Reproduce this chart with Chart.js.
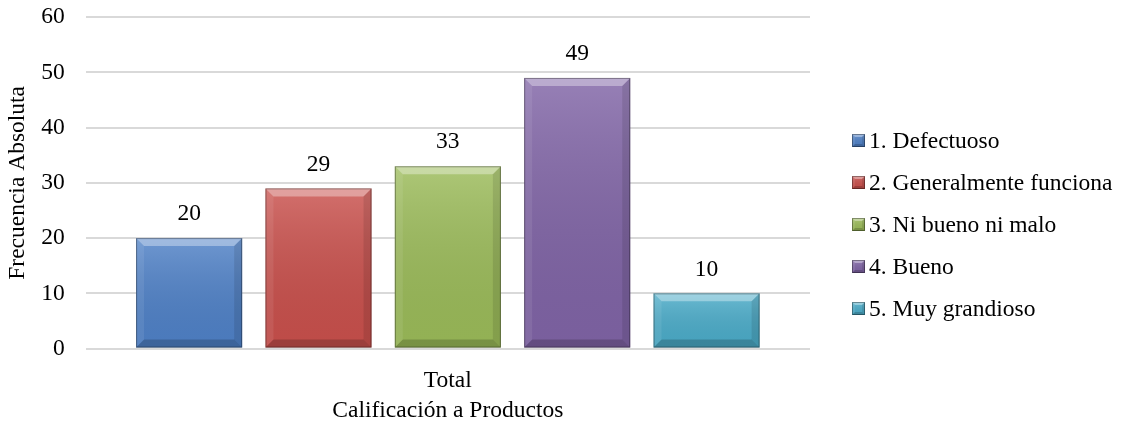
<!DOCTYPE html>
<html>
<head>
<meta charset="utf-8">
<script src="https://cdn.jsdelivr.net/npm/chart.js@4"></script>
<style>
  html, body { margin: 0; padding: 0; background: #fff; }
  #wrap { width: 1126px; height: 425px; }
</style>
</head>
<body>
<div id="wrap"><canvas id="calChart"></canvas></div>
<script>
// Data
const categories = ["Total"];
const seriesNames = [
  "1. Defectuoso",
  "2. Generalmente funciona",
  "3. Ni bueno ni malo",
  "4. Bueno",
  "5. Muy grandioso",
];
const seriesValues = [20, 29, 33, 49, 10];
const seriesColors = ["#4f81c7", "#c9504c", "#9bbb59", "#8064a6", "#4bacc9"];
const yMax = 60;
const yStep = 10;

const FONT = "'Liberation Serif', 'Times New Roman', serif";
const FS = 23.5;

// draws a bevelled rectangle over an already filled one
function bevel(ctx, l, t, r, b, s) {
  const g = ctx.createLinearGradient(0, t, 0, b);
  g.addColorStop(0, "rgba(255,255,255,0.18)");
  g.addColorStop(1, "rgba(0,0,0,0.05)");
  ctx.fillStyle = g;
  ctx.fillRect(l, t, r - l, b - t);
  const poly = (pts, fill) => {
    ctx.beginPath();
    ctx.moveTo(pts[0][0], pts[0][1]);
    pts.slice(1).forEach((p) => ctx.lineTo(p[0], p[1]));
    ctx.closePath();
    ctx.fillStyle = fill;
    ctx.fill();
  };
  poly([[l, t], [r, t], [r - s, t + s], [l + s, t + s]], "rgba(255,255,255,0.35)");
  poly([[l, t], [l + s, t + s], [l + s, b - s], [l, b]], "rgba(255,255,255,0.08)");
  poly([[r, t], [r, b], [r - s, b - s], [r - s, t + s]], "rgba(0,0,0,0.10)");
  poly([[l, b], [l + s, b - s], [r - s, b - s], [r, b]], "rgba(0,0,0,0.18)");
  ctx.strokeStyle = "rgba(0,0,0,0.35)";
  ctx.lineWidth = 1;
  ctx.strokeRect(l + 0.5, t + 0.5, r - l - 1, b - t - 1);
}

// Office-style bevel on bars
const bevelPlugin = {
  id: "bevel",
  afterDatasetsDraw(chart) {
    const ctx = chart.ctx;
    chart.data.datasets.forEach((ds, i) => {
      chart.getDatasetMeta(i).data.forEach((bar) => {
        ctx.save();
        bevel(ctx, bar.x - bar.width / 2, bar.y, bar.x + bar.width / 2, bar.base, 8);
        ctx.restore();
      });
    });
  },
};

// Value labels above the bars
const valueLabels = {
  id: "valueLabels",
  afterDatasetsDraw(chart) {
    const ctx = chart.ctx;
    ctx.save();
    ctx.font = FS + "px " + FONT;
    ctx.fillStyle = "#000";
    ctx.textAlign = "center";
    ctx.textBaseline = "middle";
    chart.data.datasets.forEach((ds, i) => {
      chart.getDatasetMeta(i).data.forEach((bar, j) => {
        ctx.fillText(String(ds.data[j]), bar.x, bar.y - 24);
      });
    });
    ctx.restore();
  },
};

// Legend on the right, drawn by hand to get Excel spacing
const sideLegend = {
  id: "sideLegend",
  afterDraw(chart) {
    const ctx = chart.ctx;
    const area = chart.chartArea;
    const n = chart.data.datasets.length;
    const step = 42;
    const x0 = area.right + 42;
    const yMid = chart.height / 2 + 12;
    ctx.save();
    ctx.font = FS + "px " + FONT;
    ctx.textBaseline = "middle";
    ctx.textAlign = "left";
    chart.data.datasets.forEach((ds, i) => {
      const y = yMid + (i - (n - 1) / 2) * step;
      ctx.fillStyle = ds.backgroundColor;
      ctx.fillRect(x0, y - 6.5, 13, 13);
      bevel(ctx, x0, y - 6.5, x0 + 13, y + 6.5, 3);
      ctx.fillStyle = "#000";
      ctx.fillText(ds.label, x0 + 17, y + 1);
    });
    ctx.restore();
  },
};

new Chart(document.getElementById("calChart"), {
  type: "bar",
  data: {
    labels: categories,
    datasets: seriesNames.map((name, i) => ({
      label: name,
      data: [seriesValues[i]],
      backgroundColor: seriesColors[i],
      borderWidth: 0,
      categoryPercentage: 0.893,
      barPercentage: 0.82,
    })),
  },
  options: {
    responsive: true,
    maintainAspectRatio: false,
    animation: false,
    layout: { padding: { left: 3, right: 316, top: 0, bottom: 0 } },
    plugins: {
      legend: { display: false },
      tooltip: { enabled: false },
    },
    scales: {
      x: {
        grid: { display: false, drawTicks: false },
        border: { display: false },
        ticks: { font: { family: FONT, size: FS }, color: "#000", padding: 18 },
        title: {
          display: true,
          text: "Calificación a Productos",
          font: { family: FONT, size: FS },
          color: "#000",
          padding: { top: -16, bottom: 0 },
        },
      },
      y: {
        min: 0,
        max: yMax,
        ticks: {
          stepSize: yStep,
          font: { family: FONT, size: FS },
          color: "#000",
          padding: 3,
        },
        grid: {
          color: "#d9d9d9",
          lineWidth: 2,
          drawTicks: true,
          tickLength: 18,
          tickColor: "rgba(0,0,0,0)",
        },
        border: { display: false },
        title: {
          display: true,
          text: "Frecuencia Absoluta",
          font: { family: FONT, size: FS },
          color: "#000",
          padding: { top: 1, bottom: 6 },
        },
      },
    },
  },
  plugins: [bevelPlugin, valueLabels, sideLegend],
});
</script>
</body>
</html>
